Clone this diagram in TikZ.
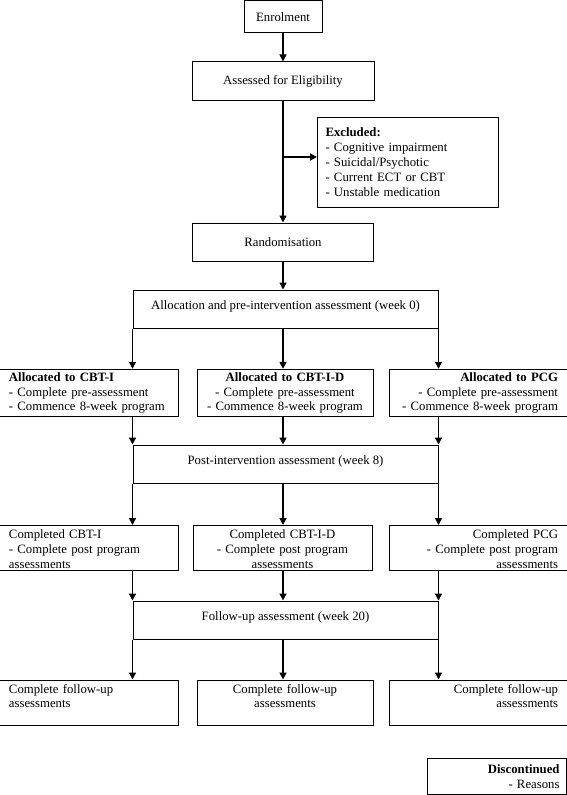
\documentclass[tikz,border=0pt]{standalone}
\usepackage{fontspec}
\setmainfont{Liberation Serif}
\usetikzlibrary{arrows.meta,positioning,calc}

\tikzset{
  box/.style={draw, line width=1bp, inner sep=2bp, align=center,
    font=\fontsize{12.8}{15}\selectfont},
  wide/.style={box, minimum width=305bp, text height=17bp, text depth=17bp},
  lbox/.style={box, minimum width=178bp, minimum height=45bp, text width=160bp, align=left},
  cbox/.style={box, minimum width=176bp, minimum height=45bp, text width=160bp, align=center},
  rbox/.style={box, minimum width=178bp, minimum height=45bp, text width=160bp, align=right},
  topbox/.style={inner ysep=3bp, text height=10bp, text depth=29bp},
  arr/.style={line width=1.4bp, -{Triangle[length=7bp,width=7bp]}}
}

\begin{document}
\begin{tikzpicture}[x=1bp, y=-1bp]
  \useasboundingbox (0,0) rectangle (567,795);

  % top part
  \node[box, minimum width=78bp, minimum height=32bp] (enrol) at (283,17) {Enrolment};
  \node[box, minimum width=182bp, minimum height=38bp] (assess) at (283,81) {Assessed for Eligibility};
  \node[box, anchor=north west, minimum width=181bp, minimum height=90bp, text width=165bp, align=left] (excl) at (317,117)
    {\textbf{Excluded:}\\- Cognitive impairment\\- Suicidal/Psychotic\\- Current ECT or CBT\\- Unstable medication};
  \node[box, minimum width=181bp, minimum height=38bp] (rand) at (283,242) {Randomisation};
  \node[wide] (alloc) at (285.5,309) {Allocation and pre-intervention assessment (week 0)};

  % allocated groups
  \node[lbox, inner ysep=3bp] (grpA) at (89,393) {\textbf{Allocated to CBT-I}\\- Complete pre-assessment\\- Commence 8-week program};
  \node[cbox, inner ysep=3bp] (grpB) at (285,393) {\textbf{Allocated to CBT-I-D}\\- Complete pre-assessment\\- Commence 8-week program};
  \node[rbox, inner ysep=3bp] (grpC) at (478,393) {\textbf{Allocated to PCG}\\- Complete pre-assessment\\- Commence 8-week program};

  \node[wide] (post) at (285.5,464) {Post-intervention assessment (week 8)};

  % completed
  \node[lbox, topbox] (doneA) at (89,548) {Completed CBT-I\\- Complete post program\\assessments};
  \node[cbox, topbox, minimum width=179bp] (doneB) at (282.5,548) {Completed CBT-I-D\\- Complete post program\\assessments};
  \node[rbox, topbox] (doneC) at (478,548) {Completed PCG\\- Complete post program\\assessments};

  \node[wide] (fup) at (285.5,620) {Follow-up assessment (week 20)};

  % follow-up
  \node[lbox, topbox] (fupA) at (89,702.5) {Complete follow-up\\assessments};
  \node[cbox, topbox] (fupB) at (285,702.5) {Complete follow-up\\assessments};
  \node[rbox, topbox] (fupC) at (478,702.5) {Complete follow-up\\assessments};

  \node[box, anchor=north east, minimum width=139bp, minimum height=36bp, text width=125bp, align=right] (disc) at (567,758)
    {\textbf{Discontinued}\\- Reasons};

  % arrows
  \coordinate (split) at (283,157);
  \draw[arr] (enrol) -- (assess);
  \draw[arr] (assess) -- (rand);
  \draw[arr] (split) -- (split -| excl.west);
  \draw[arr] (rand.south) -- (rand.south |- alloc.north);

  \draw[arr] (alloc.south west) -- (alloc.south west |- grpA.north);
  \draw[arr] (rand.south |- alloc.south) -- (rand.south |- grpB.north);
  \draw[arr] (alloc.south east) -- (alloc.south east |- grpC.north);

  \draw[arr] (post.north west |- grpA.south) -- (post.north west);
  \draw[arr] (rand.south |- grpB.south) -- (rand.south |- post.north);
  \draw[arr] (post.north east |- grpC.south) -- (post.north east);

  \draw[arr] (post.south west) -- (post.south west |- doneA.north);
  \draw[arr] (rand.south |- post.south) -- (rand.south |- doneB.north);
  \draw[arr] (post.south east) -- (post.south east |- doneC.north);

  \draw[arr] (fup.north west |- doneA.south) -- (fup.north west);
  \draw[arr] (rand.south |- doneB.south) -- (rand.south |- fup.north);
  \draw[arr] (fup.north east |- doneC.south) -- (fup.north east);

  \draw[arr] (fup.south west) -- (fup.south west |- fupA.north);
  \draw[arr] (rand.south |- fup.south) -- (rand.south |- fupB.north);
  \draw[arr] (fup.south east) -- (fup.south east |- fupC.north);
\end{tikzpicture}
\end{document}
